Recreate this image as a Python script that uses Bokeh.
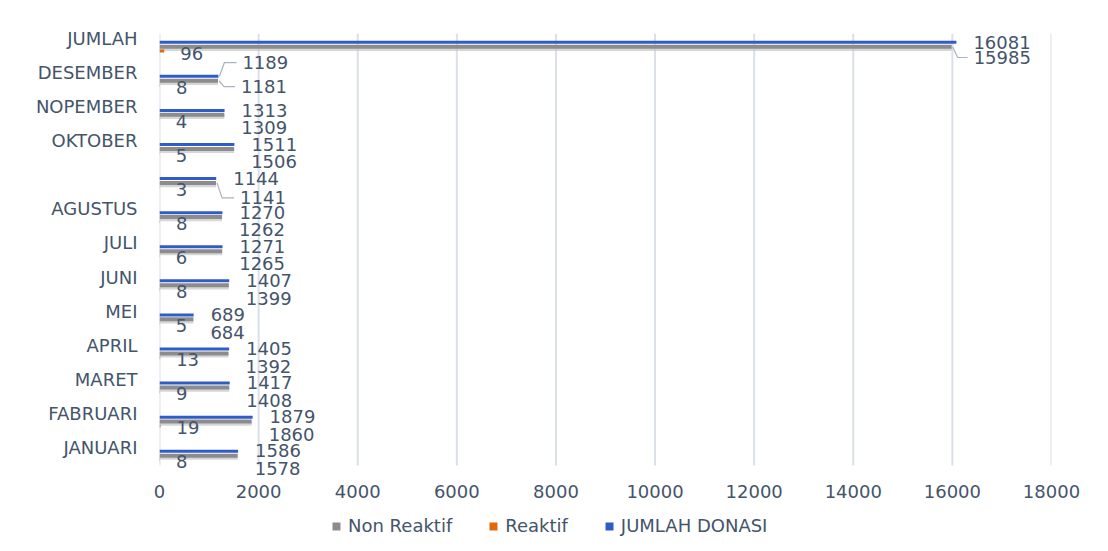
from bokeh.plotting import figure
from bokeh.layouts import column
from bokeh.models import ColumnDataSource, FixedTicker, Legend, LegendItem, Range1d
from bokeh.core.properties import value
from bokeh.embed import file_html
from bokeh.resources import INLINE

# ---------------- data ----------------
months = ["JANUARI", "FABRUARI", "MARET", "APRIL", "MEI", "JUNI", "JULI",
          "AGUSTUS", "SEPTEMBER", "OKTOBER", "NOPEMBER", "DESEMBER", "JUMLAH"]
month_labels = ["JANUARI", "FABRUARI", "MARET", "APRIL", "MEI", "JUNI", "JULI",
                "AGUSTUS", "", "OKTOBER", "NOPEMBER", "DESEMBER", "JUMLAH"]
jumlah_donasi = [1586, 1879, 1417, 1405, 689, 1407, 1271, 1270, 1144, 1511, 1313, 1189, 16081]
non_reaktif = [1578, 1860, 1408, 1392, 684, 1399, 1265, 1262, 1141, 1506, 1309, 1181, 15985]
reaktif = [8, 19, 9, 13, 5, 8, 6, 8, 3, 5, 4, 8, 96]
x_ticks = [0, 2000, 4000, 6000, 8000, 10000, 12000, 14000, 16000, 18000]
series_names = ["Non Reaktif", "Reaktif", "JUMLAH DONASI"]

# ---------------- layout / style ----------------
W, H = 1108, 551
LEG_H = 41
MAIN_H = H - LEG_H
FL, FR, FT, FB = 159, 1051, 33, 478
GRID_BOTTOM_PX = 465
XMAX = 18000
CAT_PX = 34.08
Y1 = 12 + 5 / CAT_PX
Y0 = Y1 - (FB - FT) / CAT_PX
GRID_Y0 = Y1 - (GRID_BOTTOM_PX - FT) / CAT_PX
PX_X = XMAX / (FR - FL)
PX_Y = 1 / CAT_PX

C_BLUE = "#2F5CC8"
C_GRAY = "#8C8C8C"
C_SHADOW = "#C4C4C4"
C_ORANGE = "#E2680E"
C_TEXT = "#44546A"
C_GRID = "#DADFE8"
C_LEADER = "#A9B3C2"
FONT = "DejaVu Sans"
FS = "18px"

OFF_BLUE, OFF_GRAY, OFF_ORANGE = -0.11, -0.24, -0.37

idx = list(range(len(months)))
src = ColumnDataSource(dict(
    yb=[i + OFF_BLUE for i in idx],
    yg=[i + OFF_GRAY for i in idx],
    ys=[i + OFF_GRAY - 2.2 * PX_Y for i in idx],
    yo=[i + OFF_ORANGE for i in idx],
    total=jumlah_donasi, nr=non_reaktif, r=reaktif,
))

p = figure(width=W, height=MAIN_H, output_backend="svg", toolbar_location=None,
           x_range=(0, XMAX), y_range=(Y0, Y1),
           min_border_left=FL, min_border_right=W - FR,
           min_border_top=FT, min_border_bottom=MAIN_H - FB)
p.outline_line_color = None
p.background_fill_color = "white"
p.border_fill_color = "white"

# vertical gridlines (stop above the lowest data labels, as in the reference)
p.segment(x0=x_ticks, x1=x_ticks, y0=GRID_Y0, y1=Y1,
          line_color=C_GRID, line_width=2)

shadow = p.hbar(y="ys", left=0, right="nr", height=4 * PX_Y, source=src,
                fill_color=C_SHADOW, fill_alpha=0.7, line_color=None)
gray = p.hbar(y="yg", left=0, right="nr", height=4 * PX_Y, source=src,
              fill_color=C_GRAY, line_color=None)
orange = p.hbar(y="yo", left=0, right="r", height=3 * PX_Y, source=src,
                fill_color=C_ORANGE, line_color=None)
blue = p.hbar(y="yb", left=0, right="total", height=3 * PX_Y, source=src,
              fill_color=C_BLUE, line_color=None)

# ---------------- data labels ----------------
# default placement (px below tick, px right of bar end)
place = {"total": (3.5, 17), "nr": (21, 17), "r": (14.5, 16)}
special = {
    ("DESEMBER", "total"): (-10, 24),
    ("DESEMBER", "nr"): (14, 23),
    ("SEPTEMBER", "nr"): (23, 24),
    ("JUMLAH", "nr"): (19, 22),
}
series_vals = {"total": jumlah_donasi, "nr": non_reaktif, "r": reaktif}
bar_off = {"total": OFF_BLUE, "nr": OFF_GRAY, "r": OFF_ORANGE}

lx, ly, lt, lo = [], [], [], []
lead_xs, lead_ys = [], []
for key, vals in series_vals.items():
    for i, m in enumerate(months):
        dy, dx = special.get((m, key), place[key])
        yy = i - dy * PX_Y
        lx.append(vals[i]); ly.append(yy); lt.append(str(vals[i])); lo.append(dx)
        if (m, key) in special:
            yb = i + bar_off[key]
            x0 = vals[i]
            lead_xs.append([x0 + 1 * PX_X, x0 + 6 * PX_X, x0 + (dx - 6) * PX_X])
            lead_ys.append([yb, yy, yy])

p.multi_line(xs=lead_xs, ys=lead_ys, line_color=C_LEADER, line_width=1.2)
lab_src = ColumnDataSource(dict(x=lx, y=ly, text=lt, xo=lo))
p.text(x="x", y="y", text="text", x_offset="xo", source=lab_src,
       text_font=value(FONT), text_font_size=FS, text_color=C_TEXT,
       text_align="left", text_baseline="middle")

# ---------------- axes / grid ----------------
p.xaxis.ticker = FixedTicker(ticks=x_ticks)
p.yaxis.ticker = FixedTicker(ticks=idx)
p.yaxis.major_label_overrides = {i: month_labels[i] for i in idx}
for ax in (p.xaxis, p.yaxis):
    ax.axis_line_color = None
    ax.major_tick_line_color = None
    ax.minor_tick_line_color = None
    ax.major_label_text_font = FONT
    ax.major_label_text_font_size = FS
    ax.major_label_text_color = C_TEXT
p.yaxis.major_label_standoff = 16
p.xaxis.major_label_standoff = 0
p.xgrid.grid_line_color = None
p.ygrid.grid_line_color = None

# ---------------- legend (own strip below the chart) ----------------
lg = figure(width=W, height=LEG_H, output_backend="svg", toolbar_location=None,
            x_range=Range1d(0, 1), y_range=Range1d(0, 1),
            min_border_left=FL, min_border_right=W - FR, min_border_top=0, min_border_bottom=0)
lg.axis.visible = False
lg.grid.grid_line_color = None
lg.outline_line_color = None
# legend-key renderers, kept outside the strip's visible range
key_src = ColumnDataSource(dict(y=[-5], left=[0], right=[1]))
lg_gray = lg.hbar(y="y", left="left", right="right", height=0.1, source=key_src,
                  fill_color=C_GRAY, line_color=None)
lg_orange = lg.hbar(y="y", left="left", right="right", height=0.1, source=key_src,
                    fill_color=C_ORANGE, line_color=None)
lg_blue = lg.hbar(y="y", left="left", right="right", height=0.1, source=key_src,
                  fill_color=C_BLUE, line_color=None)
legend = Legend(items=[LegendItem(label=series_names[0], renderers=[lg_gray]),
                       LegendItem(label=series_names[1], renderers=[lg_orange]),
                       LegendItem(label=series_names[2], renderers=[lg_blue])],
                orientation="horizontal", location=(331 - FL, 15),
                border_line_color=None, background_fill_alpha=0,
                glyph_width=10, glyph_height=10, label_standoff=7, spacing=36,
                label_text_font=FONT, label_text_font_size=FS,
                label_text_color=C_TEXT, padding=4, margin=0)
lg.add_layout(legend, "center")

layout = column(p, lg, spacing=0)
open("out.html", "w").write(file_html(layout, INLINE))
